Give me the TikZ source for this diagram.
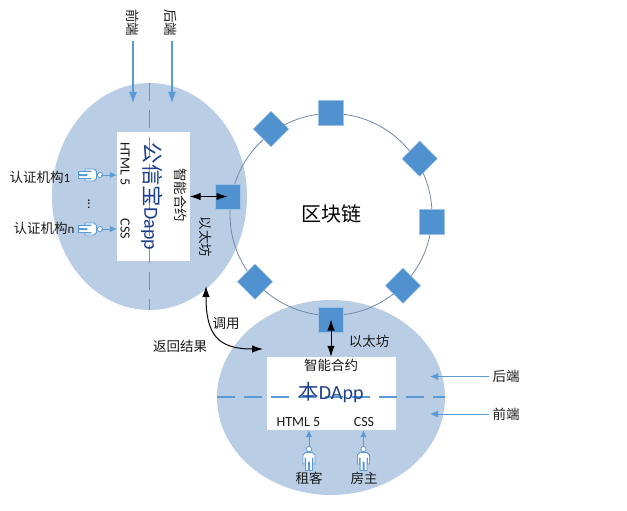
\documentclass[tikz,border=0pt]{standalone}
\usepackage{fontspec}
\setmainfont{Carlito}
\newfontfamily\cjk{Noto Sans CJK SC}
\usetikzlibrary{arrows.meta}
\definecolor{ell}{HTML}{B9CDE5}
\definecolor{nodeblue}{HTML}{5091D0}
\definecolor{lineblue}{HTML}{5B9BD5}
\definecolor{ringc}{HTML}{7189A6}
\definecolor{titleblue}{HTML}{1F3F8F}
\definecolor{txt}{HTML}{1A1A1A}
\tikzset{
  x=1pt,y=-1pt,
  lbl/.style={font=\cjk\fontsize{13.5}{14}\selectfont,text=txt,inner sep=0pt},
  latin/.style={font=\fontsize{14}{15}\selectfont,text=txt,inner sep=0pt},
  title/.style={font=\fontsize{20}{21}\selectfont,text=titleblue,inner sep=0pt},
  sq/.style={fill=nodeblue,draw=nodeblue!55,line width=.5pt,minimum size=25pt,inner sep=0pt},
  dia/.style={sq,rotate=45},
  whitebox/.style={fill=white,draw=none,inner sep=0pt},
  bluearrow/.style={draw=lineblue,line width=1.2pt,-{Latex[length=11pt,width=8pt]}},
  minia/.style={draw=lineblue,line width=.9pt,-{Latex[length=7pt,width=6.5pt]}},
  biarrow/.style={draw=black,line width=1pt,{Latex[length=11pt,width=7.5pt]}-{Latex[length=11pt,width=7.5pt]}},
  midline/.style={draw=lineblue,line width=1.1pt,dash pattern=on 18pt off 9pt},
  person/.pic={
    \draw[lineblue,fill=white,line width=.8pt] (0,-12) circle (2.6);
    \draw[lineblue,fill=white,line width=.8pt,line join=round]
      (-3.5,-8.5) -- (3.5,-8.5) -- (6,-6) -- (6,3) -- (4,3) -- (4,-3) -- (3.4,-3) -- (3.4,9.5)
      -- (.6,9.5) -- (.6,1) -- (-.6,1) -- (-.6,9.5) -- (-3.4,9.5) -- (-3.4,-3) -- (-4,-3)
      -- (-4,3) -- (-6,3) -- (-6,-6) -- cycle;
  }
}
\begin{document}
\begin{tikzpicture}
\useasboundingbox (0,0) rectangle (627,511);
% ellipses
\fill[ell] (149.5,196.5) ellipse [x radius=97.5,y radius=113.5];
\fill[ell] (331,397.5) ellipse [x radius=114,y radius=97.5];
% white boxes
\node[whitebox,minimum width=72.5pt,minimum height=129pt] (lbox) at (153.25,196.5) {};
\node[whitebox,minimum width=129pt,minimum height=73pt] (bbox) at (331.5,393.5) {};
% dashed axes
\coordinate (vt) at (149.5,83);
\coordinate (vb) at (149.5,310);
\coordinate (hl) at (217,397);
\coordinate (hr) at (445,397);
\draw[midline] (vt) -- (vb);
\draw[midline] (hl) -- (hr);
% ring
\node[draw=ringc,line width=.8pt,circle,minimum size=202pt,inner sep=0pt] (ring) at (331,214.5) {};
% chain nodes
\node[sq] (n1) at (331,113) {};
\node[sq] (n2) at (432,222) {};
\node[sq] (n3) at (227.5,196.5) {};
\node[sq] (n4) at (331,319.5) {};
\node[dia] (d1) at (271,129) {};
\node[dia] (d2) at (419.7,158.7) {};
\node[dia] (d3) at (255,281.7) {};
\node[dia] (d4) at (403,285.7) {};
\node[font=\cjk\fontsize{20}{22}\selectfont,text=black,inner sep=0pt] (chain) at (331,214) {区块链};
% left dapp texts
\node[title,rotate=-90] (ltitle) at (152,196.5) {{\cjk\fontsize{21.5}{22}\selectfont 公信宝}Dapp};
\node[latin,rotate=-90] (lhtml) at (125,164) {HTML 5};
\node[latin,rotate=-90] (lcss) at (125,229) {CSS};
\node[lbl,rotate=-90] (lsc) at (181,195) {智能合约};
\node[lbl,rotate=-90] (leth) at (206,237) {以太坊};
% top labels
\node[lbl,rotate=-90] (tf) at (133,23) {前端};
\node[lbl,rotate=-90] (tb) at (171,23) {后端};
\coordinate (tfa) at (133,41);
\coordinate (tfb) at (133,103);
\coordinate (tba) at (172,41);
\coordinate (tbb) at (172,103);
\draw[bluearrow] (tfa) -- (tfb);
\draw[bluearrow] (tba) -- (tbb);
% left actors
\pic[rotate=-90] at (88,175) {person};
\pic[rotate=-90] at (88,229) {person};
\coordinate (a1) at (101,175);
\coordinate (a2) at (101,229);
\draw[minia] (a1) -- (a1 -| lbox.west);
\draw[minia] (a2) -- (a2 -| lbox.west);
\node[lbl] (auth1) at (40,177.5) {认证机构{\fontsize{13}{14}\selectfont\rmfamily 1}};
\node[lbl] (authn) at (44,228) {认证机构{\fontsize{13}{14}\selectfont\rmfamily n}};
\node[latin,rotate=90] (dots) at (89,204) {...};
% black arrows
\coordinate (n3c) at (n3.center);
\coordinate (n4c) at (n4.center);
\draw[biarrow] (n3c) -- (n3c -| lbox.east);
\draw[biarrow] (n4c) -- (n4c |- bbox.north);
\coordinate (cu) at (206,286);
\coordinate (cd) at (263,349);
\draw[biarrow] (cu) .. controls (206,335) and (218,349) .. (cd);
\node[lbl] (call) at (226,324) {调用};
\node[lbl] (ret) at (180,346) {返回结果};
\node[lbl] (beth) at (369,341) {以太坊};
% bottom dapp texts
\node[lbl] (bsc) at (331,365) {智能合约};
\node[title] (btitle) at (331,393) {{\cjk\fontsize{20.5}{22}\selectfont 本}DApp};
\node[latin] (bhtml) at (298.5,422) {HTML 5};
\node[latin] (bcss) at (364,422) {CSS};
% bottom actors
\pic at (309,461) {person};
\pic at (363.5,461) {person};
\coordinate (p1) at (309,446);
\coordinate (p2) at (363.5,446);
\draw[minia] (p1) -- (p1 |- bbox.south);
\draw[minia] (p2) -- (p2 |- bbox.south);
\node[lbl] (tenant) at (309,478) {租客};
\node[lbl] (owner) at (364,478) {房主};
% right labels
\node[lbl] (rb) at (506,376.5) {后端};
\node[lbl] (rf) at (506,414) {前端};
\coordinate (ra) at (430,376.5);
\coordinate (rc) at (430,414);
\draw[minia,-{Latex[length=8pt,width=7pt]}] (rb.west) ++(-3,0) -- (ra);
\draw[minia,-{Latex[length=8pt,width=7pt]}] (rf.west) ++(-3,0) -- (rc);
\end{tikzpicture}
\end{document}
